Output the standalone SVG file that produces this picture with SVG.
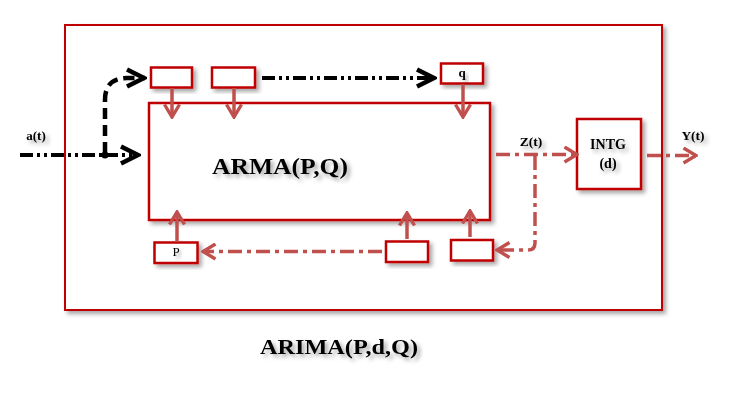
<svg xmlns="http://www.w3.org/2000/svg" width="735" height="400" viewBox="0 0 735 400">
<defs>
<style>
.box{fill:#fff;stroke:#C00000;stroke-width:2.5}
.frame{fill:#fff;stroke:#C00000;stroke-width:2}
.red{fill:none;stroke:#C0504D;stroke-width:3.5}
.rdd{fill:none;stroke:#C0504D;stroke-width:3.5;stroke-dasharray:14 5 4 5}
.bdd{fill:none;stroke:#000;stroke-width:4;stroke-dasharray:13 4 3 4 3 4}
.bdash{fill:none;stroke:#000;stroke-width:4.5;stroke-dasharray:11 6}
text{font-family:"Liberation Serif","Times New Roman",serif;font-weight:bold;fill:#000;text-anchor:middle}
.sh{filter:url(#ds)}
</style>
<filter id="ds" x="-20%" y="-20%" width="150%" height="150%">
<feDropShadow dx="3" dy="3" stdDeviation="2" flood-color="#000" flood-opacity="0.35"/>
</filter>
<marker id="ra" markerUnits="userSpaceOnUse" viewBox="0 0 16 18" refX="14" refY="9" markerWidth="16" markerHeight="18" orient="auto">
<polyline points="1.5,1.5 14,9 1.5,16.5" fill="none" stroke="#C0504D" stroke-width="3.4"/>
</marker>
<marker id="ba" markerUnits="userSpaceOnUse" viewBox="0 0 22 22" refX="20" refY="11" markerWidth="22" markerHeight="22" orient="auto">
<polyline points="2,2.5 19,11 2,19.5" fill="none" stroke="#000" stroke-width="4.5"/>
</marker>
</defs>
<rect width="735" height="400" fill="#fff"/>
<g id="arima-frame"><rect class="frame sh" x="65" y="25" width="597" height="285"/></g>
<g id="arma"><rect class="box sh" x="149" y="103" width="341" height="117"/>
<text x="280" y="174" font-size="23.5" textLength="136" lengthAdjust="spacingAndGlyphs" class="sh">ARMA(P,Q)</text></g>
<g id="top1"><rect class="box sh" x="151" y="67.5" width="41" height="20"/></g>
<g id="top2"><rect class="box sh" x="212" y="67.5" width="43" height="20"/></g>
<g id="q"><rect class="box sh" x="441" y="63.5" width="42" height="20"/><text x="462" y="77" font-size="13" class="sh">q</text></g>
<g id="intg"><rect class="box sh" x="577" y="119" width="64" height="70"/>
<text x="608" y="149" font-size="14" class="sh">INTG</text><text x="608" y="168" font-size="14" class="sh">(d)</text></g>
<g id="p"><rect class="box sh" x="154.5" y="242.5" width="43" height="20.5"/><text x="176" y="256" font-size="13" style="font-weight:normal" class="sh">P</text></g>
<g id="bot2"><rect class="box sh" x="386" y="241.5" width="42" height="20.5"/></g>
<g id="bot3"><rect class="box sh" x="451" y="240" width="42" height="20.5"/></g>
<g id="connectors">
<path class="bdd" d="M20,155 H105"/>
<path class="bdd" d="M105,155 H139" marker-end="url(#ba)"/>
<circle cx="105" cy="155" r="3.5" fill="#000"/>
<path class="bdash" d="M105,153 V100 Q105,78 127,78 H145" marker-end="url(#ba)"/>
<path class="bdd" d="M262,78 H435" marker-end="url(#ba)"/>
<path class="red" d="M172,88 V117" marker-end="url(#ra)"/>
<path class="red" d="M234,88 V117" marker-end="url(#ra)"/>
<path class="red" d="M463,84 V117" marker-end="url(#ra)"/>
<path class="red" d="M177,242 V212" marker-end="url(#ra)"/>
<path class="red" d="M407,239 V213" marker-end="url(#ra)"/>
<path class="red" d="M470,237 V211" marker-end="url(#ra)"/>
<path class="rdd" d="M382,251.5 H203" marker-end="url(#ra)"/>
<path class="rdd" d="M496,154.5 H577" marker-end="url(#ra)"/>
<path class="rdd" d="M535,156 V243 Q535,250 528,250 H497" marker-end="url(#ra)"/>
<path class="rdd" d="M647,155.5 H696" marker-end="url(#ra)"/>
</g>
<g id="labels">
<text x="36" y="140" font-size="13" class="sh">a(t)</text>
<text x="531" y="146" font-size="13.5" class="sh">Z(t)</text>
<text x="693" y="140" font-size="13.5" class="sh">Y(t)</text>
<text x="339" y="354" font-size="21" textLength="158" lengthAdjust="spacingAndGlyphs" class="sh">ARIMA(P,d,Q)</text>
</g>
</svg>
